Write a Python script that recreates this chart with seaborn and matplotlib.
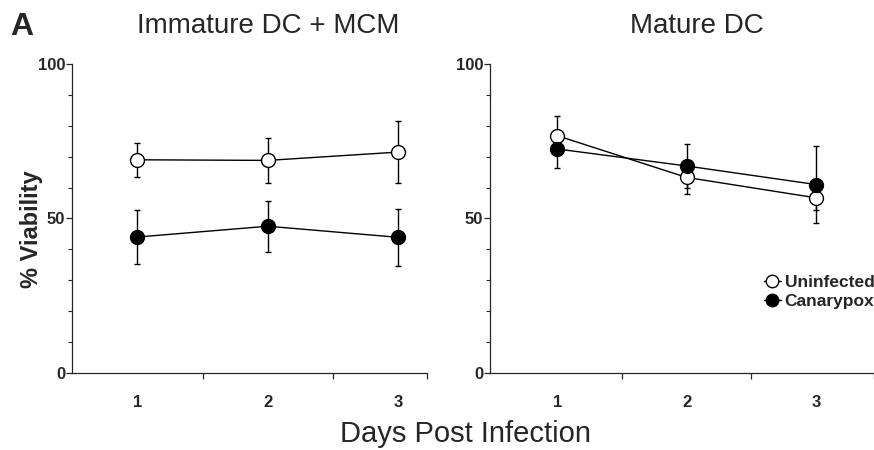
import matplotlib
matplotlib.use("Agg")
import matplotlib.pyplot as plt
from matplotlib.ticker import FixedLocator
import seaborn as sns

# ── Data ────────────────────────────────────────────────────────────────
days = [1, 2, 3]
groups = ["Uninfected", "Canarypox"]
panel_titles = ["Immature DC + MCM", "Mature DC"]

imm_uninf = [69.0, 68.8, 71.5]
imm_uninf_sd = [5.5, 7.2, 10.0]
imm_canary = [44.0, 47.5, 43.9]
imm_canary_sd = [8.7, 8.2, 9.3]

mat_uninf = [76.8, 63.3, 56.7]
mat_uninf_sd = [6.3, 5.4, 4.0]
mat_canary = [72.5, 67.0, 61.0]
mat_canary_sd = [6.3, 7.2, 12.5]

sns.set_style("ticks")
plt.rcParams["font.family"] = ["Liberation Sans", "DejaVu Sans"]

fig = plt.figure(figsize=(8.74, 4.5), dpi=100)
ax1 = fig.add_axes([0.0824, 0.1711, 0.4062, 0.6867])
ax2 = fig.add_axes([0.5606, 0.1711, 0.4394, 0.6867])

panels = [
    (ax1, [(imm_uninf, imm_uninf_sd), (imm_canary, imm_canary_sd)], (0.5, 3.22), 2.0),
    (ax2, [(mat_uninf, mat_uninf_sd), (mat_canary, mat_canary_sd)], (0.48, 3.45), 2.08),
]
faces = ["white", "black"]

for (ax, series, xlim, tx), title in zip(panels, panel_titles):
    for (vals, sd), name, fc in zip(series, groups, faces):
        ax.errorbar(days, vals, yerr=sd, fmt="none", ecolor="black",
                    elinewidth=1, capsize=2, capthick=1, zorder=1)
        sns.lineplot(x=days, y=vals, ax=ax, color="black", linewidth=1,
                     marker="o", markersize=10, markerfacecolor=fc,
                     markeredgecolor="black", markeredgewidth=1,
                     label=name, zorder=3)

    ax.set_xlim(*xlim)
    ax.set_ylim(0, 100)
    sns.despine(ax=ax)
    for s in ["left", "bottom"]:
        ax.spines[s].set_linewidth(0.9)

    ax.set_yticks([0, 50, 100])
    ax.yaxis.set_minor_locator(FixedLocator([10, 20, 30, 40, 60, 70, 80, 90]))
    ax.tick_params(axis="y", which="major", length=4, width=0.9, pad=1)
    ax.tick_params(axis="y", which="minor", length=3, width=0.8)

    ax.set_xticks(days)
    ax.xaxis.set_minor_locator(FixedLocator([1.5, 2.5, xlim[1]]))
    ax.tick_params(axis="x", which="major", length=0, pad=16)
    ax.tick_params(axis="x", which="minor", length=4, width=0.9)

    for lab in ax.get_xticklabels() + ax.get_yticklabels():
        lab.set_fontweight("bold")
        lab.set_fontsize(12)

    ax.set_xlabel("")
    ax.set_ylabel("")
    ax.text(tx, 108, title, ha="center", va="bottom", fontsize=20,
            transform=ax.transData, clip_on=False)

ax1.get_legend().remove()
leg = ax2.legend(loc="center left", bbox_to_anchor=(0.695, 0.262), frameon=False,
                 handlelength=1.0, handletextpad=0.2, labelspacing=0.25,
                 borderaxespad=0, prop={"weight": "bold", "size": 12.5})
for h in leg.legend_handles:
    h.set_markersize(9)

fig.text(0.036, 0.49, "% Viability", rotation=90, ha="center", va="center",
         fontsize=17, fontweight="bold")
fig.text(0.533, 0.035, "Days Post Infection", ha="center", va="center",
         fontsize=21)
fig.text(0.012, 0.94, "A", ha="left", va="center", fontsize=23,
         fontweight="bold")

fig.savefig("out.png", dpi=100)
